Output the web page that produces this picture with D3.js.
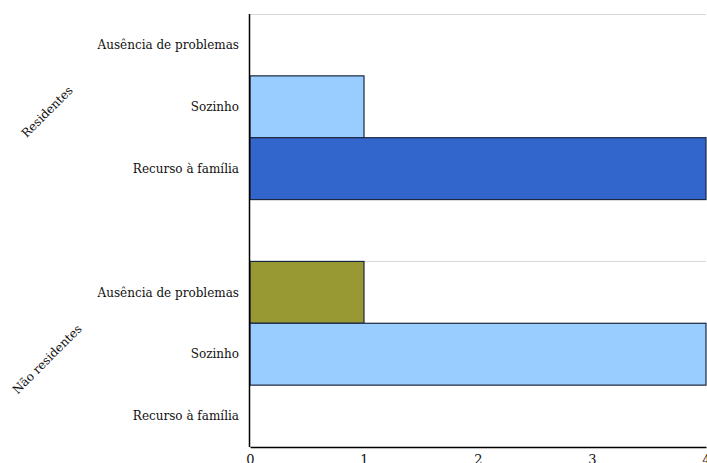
<!DOCTYPE html>
<html><head><meta charset="utf-8">
<script src="https://cdn.jsdelivr.net/npm/d3@7/dist/d3.min.js"></script>
<style>body{margin:0;background:#fff}svg{display:block}</style>
</head><body>
<script>
const groups = ["Residentes", "Não residentes"];
const categories = ["Ausência de problemas", "Sozinho", "Recurso à família"];
const residentesValues = [0, 1, 4];
const naoResidentesValues = [1, 4, 0];
const xTicks = [0, 1, 2, 3, 4];
const colors = {"Ausência de problemas": "#999933", "Sozinho": "#99CCFF", "Recurso à família": "#3366CC"};

const seriesByGroup = {"Residentes": residentesValues, "Não residentes": naoResidentesValues};

const W = 707, H = 463;
const mLeft = 250, mRight = 706, mTop = 14, mBottom = 447;
const svg = d3.select("body").append("svg").attr("width", W).attr("height", H);
const font = "DejaVu Serif";

const x = d3.scaleLinear().domain([0, 4]).range([mLeft, mRight]);
const yGroup = d3.scaleBand().domain(groups).range([mTop, mBottom]).paddingInner(0.25);
const yCat = d3.scaleBand().domain(categories).range([0, yGroup.bandwidth()]);

// light top lines of each panel
svg.selectAll("line.grid").data(groups).enter().append("line")
  .attr("x1", mLeft).attr("x2", mRight)
  .attr("y1", d => Math.round(yGroup(d)) + 0.5).attr("y2", d => Math.round(yGroup(d)) + 0.5)
  .attr("stroke", "#d8d8d8");

groups.forEach(g => {
  const gy = yGroup(g);
  const vals = seriesByGroup[g];
  const gg = svg.append("g").attr("transform", `translate(0,${gy})`);
  gg.selectAll("rect").data(categories.map((c, i) => ({c, v: vals[i]})).filter(d => d.v > 0))
    .enter().append("rect")
    .attr("x", x(0)).attr("y", d => yCat(d.c))
    .attr("width", d => x(d.v) - x(0)).attr("height", yCat.bandwidth())
    .attr("fill", d => colors[d.c]).attr("stroke", "#1c2740").attr("stroke-width", 1.2);
  gg.selectAll("text.cat").data(categories).enter().append("text")
    .attr("x", 239).attr("y", d => yCat(d) + yCat.bandwidth() / 2)
    .attr("dy", "0.35em").attr("text-anchor", "end")
    .attr("font-family", font).attr("font-size", 12).attr("fill", "#111")
    .text(d => d);
  const cy = gy + yGroup.bandwidth() / 2 + 5;
  svg.append("text").attr("transform", `translate(47,${cy}) rotate(-45)`)
    .attr("text-anchor", "middle").attr("dy", "0.35em")
    .attr("font-family", font).attr("font-size", 12).attr("fill", "#111")
    .text(g);
});

// axes lines
svg.append("line").attr("x1", mLeft - 0.5).attr("x2", mLeft - 0.5).attr("y1", mTop).attr("y2", mBottom)
  .attr("stroke", "#000").attr("stroke-width", 1.5);
const xAxis = d3.axisBottom(x).tickValues(xTicks).tickSize(0).tickPadding(8).tickFormat(d3.format("d"));
const ax = svg.append("g").attr("transform", `translate(0,${mBottom})`).call(xAxis);
ax.select(".domain").attr("stroke", "#000").attr("stroke-width", 1.5);
ax.selectAll("text").attr("font-family", font).attr("font-size", 13).attr("fill", "#111");
</script>
</body></html>
